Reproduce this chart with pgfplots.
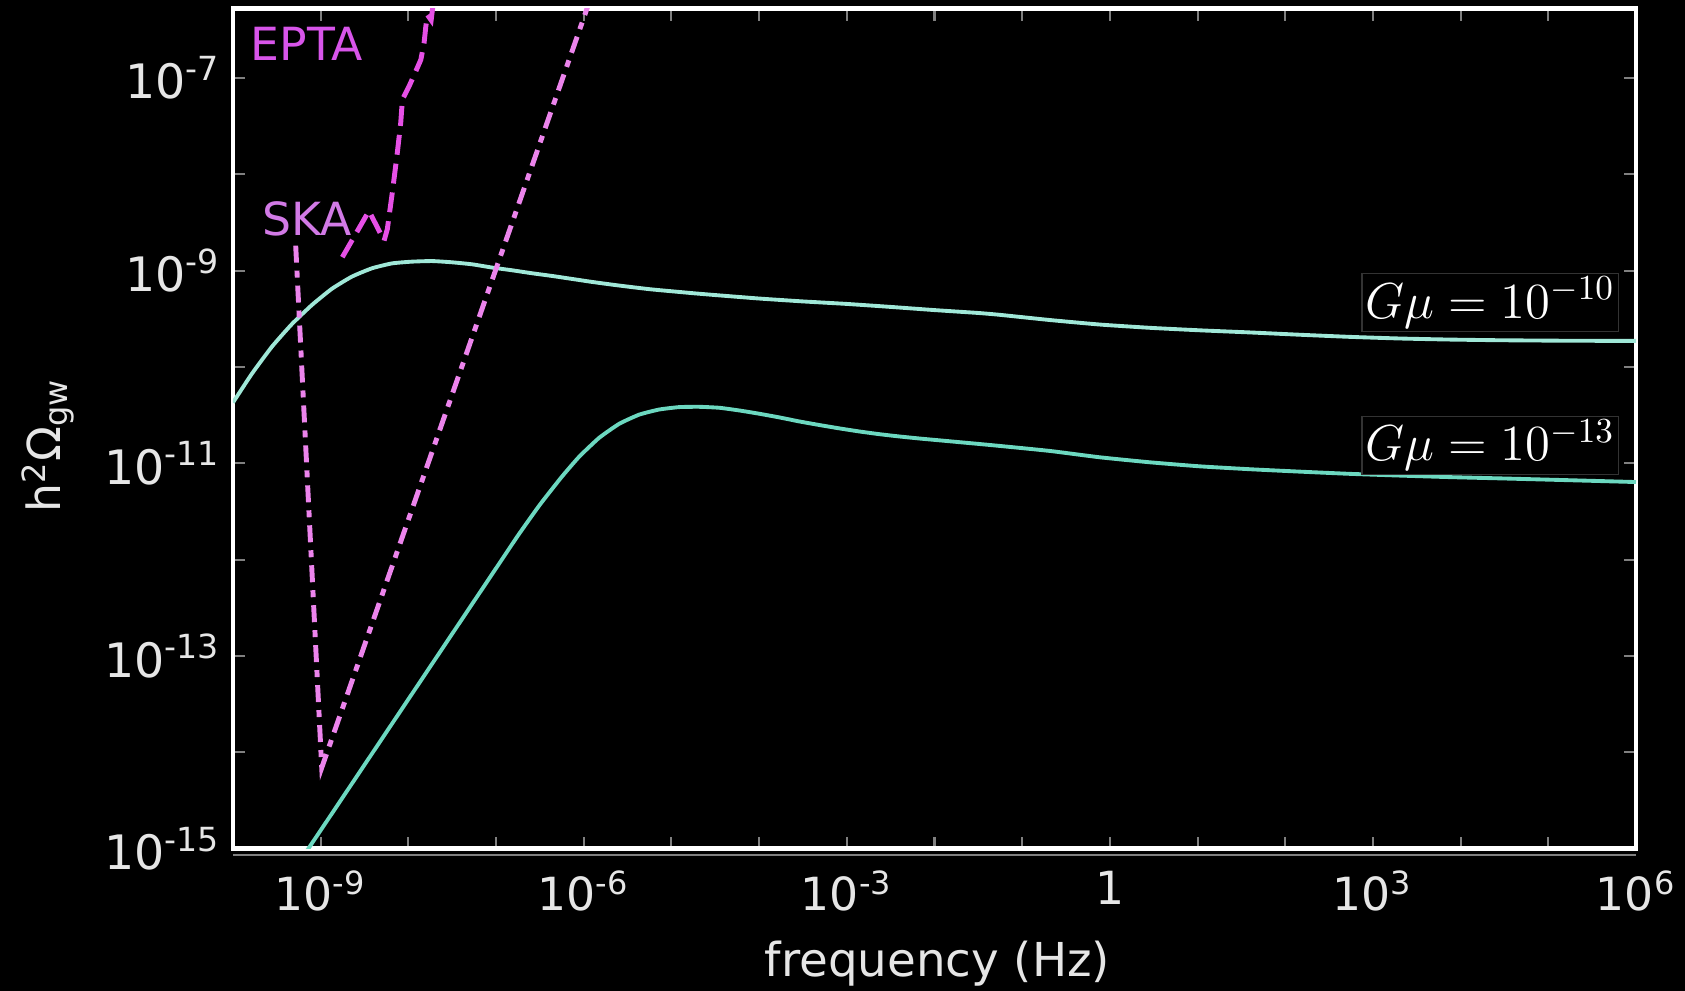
\documentclass[border=0pt]{standalone}
\usepackage{pgfplots}
\pgfplotsset{compat=1.18}
\usepackage{fontspec}
\setmainfont{DejaVu Sans}
\definecolor{upper}{HTML}{A0E8D8}
\definecolor{lower}{HTML}{6CD8C0}
\definecolor{ska}{HTML}{EC84EC}
\definecolor{epta}{HTML}{E650E6}
\definecolor{skatext}{HTML}{D27AE6}
\definecolor{eptatext}{HTML}{D855EA}
\definecolor{ticklab}{HTML}{E6E6E6}
% all values below are log10(frequency/Hz) and log10(h^2 Omega_gw)
\begin{document}
\begin{tikzpicture}
\fill[black] (-23.3mm,-14.2mm) rectangle (145.2mm,84.86mm);
\begin{axis}[
  at={(0,0)}, anchor=south west,
  scale only axis, width=140.3mm, height=84mm,
  clip mode=individual,
  xmin=-10, xmax=6, ymin=-15, ymax=-6.28,
  axis line style={white, line width=1.4pt},
  tick align=inside,
  major tick length=1.2mm,
  tick style={color=gray, line width=0.6pt},
  xtick={-10,-9,-8,-7,-6,-5,-4,-3,-2,-1,0,1,2,3,4,5,6},
  xticklabels={,10\textsuperscript{-9},,,10\textsuperscript{-6},,,10\textsuperscript{-3},,,1,,,10\textsuperscript{3},,,10\textsuperscript{6}},
  ytick={-15,-14,-13,-12,-11,-10,-9,-8,-7},
  yticklabels={10\textsuperscript{-15},,10\textsuperscript{-13},,10\textsuperscript{-11},,10\textsuperscript{-9},,10\textsuperscript{-7}},
  xticklabel style={font=\fontsize{13}{13}\selectfont, text=ticklab, yshift=-1mm},
  yticklabel style={font=\fontsize{13.5}{13}\selectfont, text=ticklab},
]
% G mu = 1e-10
\addplot[upper, line width=1.1pt, smooth, tension=0.3] coordinates {
(-10.0,-10.37) (-9.784,-10.07) (-9.556,-9.79) (-9.328,-9.555) (-9.099,-9.356)
(-8.871,-9.188) (-8.643,-9.062) (-8.415,-8.976) (-8.186,-8.925) (-7.958,-8.907)
(-7.728,-8.901) (-7.500,-8.914) (-7.271,-8.935) (-7.043,-8.969) (-6.815,-8.997)
(-6.587,-9.028) (-6.358,-9.056) (-6.130,-9.087) (-5.902,-9.118) (-5.675,-9.146)
(-5.446,-9.172) (-5.218,-9.196) (-4.75,-9.235) (-4.5,-9.254) (-4.0,-9.29) (-3.5,-9.32)
(-3.0,-9.346) (-2.5,-9.377) (-2.0,-9.41) (-1.5,-9.44) (-1.257,-9.459)
(-0.686,-9.513) (-0.115,-9.56) (0.456,-9.594) (1.027,-9.620) (1.598,-9.642)
(2.169,-9.666) (2.740,-9.688) (3.311,-9.705) (3.881,-9.716) (4.452,-9.723)
(5.2,-9.728) (6.0,-9.73)
};
% G mu = 1e-13
\addplot[lower, line width=1.1pt, smooth, tension=0.3] coordinates {
(-9.2,-15.08) (-9.0,-14.81) (-8.5,-14.13) (-8.0,-13.45) (-7.5,-12.77)
(-7.0,-12.09) (-6.75,-11.75) (-6.5,-11.43) (-6.25,-11.14) (-6.05,-10.93)
(-5.823,-10.735) (-5.595,-10.59) (-5.367,-10.495) (-5.139,-10.442)
(-4.911,-10.417) (-4.683,-10.414) (-4.454,-10.424) (-4.226,-10.452) (-3.998,-10.486)
(-3.770,-10.524) (-3.541,-10.566) (-3.313,-10.603) (-3.085,-10.638) (-2.857,-10.670)
(-2.629,-10.698) (-2.400,-10.722) (-2.172,-10.743) (-1.944,-10.762) (-1.716,-10.781)
(-1.488,-10.80) (-1.257,-10.82) (-0.686,-10.872) (-0.115,-10.938) (0.456,-10.99)
(1.027,-11.032) (1.598,-11.062) (2.169,-11.087) (2.740,-11.11) (3.311,-11.128)
(3.881,-11.144) (4.452,-11.157) (5.2,-11.175) (6.0,-11.195)
};
% SKA
\addplot[ska, line width=1.4pt, dash pattern=on 1.7mm off 0.8mm on 0.7mm off 0.8mm] coordinates {
(-9.285,-8.741) (-8.988,-14.16) (-5.975,-6.311) (-5.9,-6.116)
};
% EPTA
\addplot[epta, line width=1.4pt, dash pattern=on 2mm off 0.9mm] coordinates {
(-8.753,-8.861) (-8.449,-8.380) (-8.277,-8.690) (-8.24,-8.569) (-8.183,-8.189)
(-8.126,-7.776) (-8.087,-7.465) (-8.068,-7.224) (-7.992,-7.087) (-7.916,-6.932)
(-7.858,-6.811) (-7.821,-6.638) (-7.801,-6.466) (-7.783,-6.345) (-7.74,-6.40)
(-7.72,-6.25)
};
\node[text=eptatext, font=\fontsize{13}{13}\selectfont] at (axis description cs:0.0527,0.958) {EPTA};
\node[text=skatext, font=\fontsize{13}{13}\selectfont] at (axis description cs:0.053,0.75) {SKA};
\node[draw=white!20!black, line width=0.4pt, fill=black, text=white, inner sep=1pt, font=\fontsize{14.5}{14.5}\selectfont] at (axis description cs:0.896,0.65) {$G\mu = 10^{-10}$};
\node[draw=white!20!black, line width=0.4pt, fill=black, text=white, inner sep=1pt, font=\fontsize{14.5}{14.5}\selectfont] at (axis description cs:0.896,0.48) {$G\mu = 10^{-13}$};
\node[text=ticklab, rotate=90, font=\fontsize{13}{13}\selectfont] at (axis description cs:-0.132,0.48) {h\textsuperscript{2}Ω\textsubscript{gw}};
\node[text=ticklab, font=\fontsize{13.3}{13}\selectfont] at (axis description cs:0.502,-0.137) {frequency (Hz)};
\end{axis}
\draw[gray, line width=0.6pt] (0,-0.65mm) -- (140.3mm,-0.65mm);
\pgfresetboundingbox
\path[use as bounding box] (-23.3mm,-14.2mm) rectangle (145.2mm,84.86mm);
\end{tikzpicture}
\end{document}
